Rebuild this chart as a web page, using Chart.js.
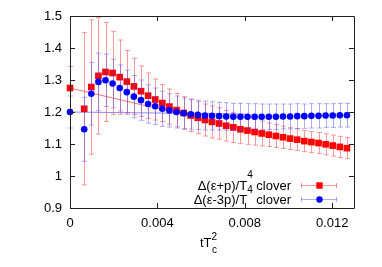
<!DOCTYPE html>
<html>
<head>
<meta charset="utf-8">
<script src="https://cdn.jsdelivr.net/npm/chart.js@4"></script>
<style>
  html, body { margin: 0; padding: 0; background: #fff; }
  #wrap { width: 382px; height: 267px; }
</style>
</head>
<body>
<div id="wrap"><canvas id="chart" width="382" height="267"></canvas></div>
<script>
// flow time tT_c^2 (first entry is the t->0 extrapolation)
const tTc2 = [0, 0.00065, 0.000975, 0.0013, 0.001625, 0.00195, 0.002275, 0.0026, 0.002925,
  0.00325, 0.003575, 0.0039, 0.004225, 0.00455, 0.004875, 0.0052, 0.005525, 0.00585, 0.006175,
  0.0065, 0.006825, 0.00715, 0.007475, 0.0078, 0.008125, 0.00845, 0.008775, 0.0091, 0.009425,
  0.00975, 0.010075, 0.0104, 0.010725, 0.01105, 0.011375, 0.0117, 0.012025, 0.01235, 0.012675];

// Delta(e+p)/T^4 clover
const epVal = [1.275, 1.21, 1.278, 1.313, 1.325, 1.322, 1.309, 1.295, 1.28, 1.265, 1.251, 1.239,
  1.228, 1.217, 1.206, 1.197, 1.189, 1.182, 1.175, 1.169, 1.164, 1.157, 1.152, 1.146, 1.142,
  1.1375, 1.133, 1.129, 1.125, 1.121, 1.117, 1.1135, 1.109, 1.106, 1.103, 1.099, 1.095, 1.091, 1.087];
const epErr = [0.067, 0.238, 0.21, 0.182, 0.155, 0.13, 0.116, 0.097, 0.088, 0.079, 0.071, 0.064,
  0.058, 0.055, 0.052, 0.051, 0.05, 0.05, 0.05, 0.05, 0.049, 0.048, 0.047, 0.045, 0.043,
  0.041, 0.039, 0.037, 0.036, 0.035, 0.034, 0.034, 0.033, 0.033, 0.033, 0.033, 0.033, 0.033, 0.033];

// Delta(e-3p)/T^4 clover
const e3pVal = [1.2, 1.146, 1.257, 1.294, 1.299, 1.289, 1.275, 1.262, 1.248, 1.237, 1.225, 1.218,
  1.21, 1.205, 1.2, 1.196, 1.193, 1.191, 1.189, 1.188, 1.187, 1.186, 1.185, 1.185, 1.185,
  1.185, 1.185, 1.185, 1.185, 1.186, 1.186, 1.187, 1.187, 1.188, 1.188, 1.189, 1.189, 1.19, 1.19];
const e3pErr = [0.05, 0.1, 0.098, 0.09, 0.082, 0.076, 0.072, 0.069, 0.066, 0.063, 0.06, 0.057,
  0.055, 0.052, 0.05, 0.048, 0.047, 0.046, 0.045, 0.044, 0.043, 0.043, 0.042, 0.042, 0.041,
  0.041, 0.04, 0.04, 0.04, 0.039, 0.039, 0.039, 0.038, 0.038, 0.038, 0.037, 0.037, 0.037, 0.037];

// linear extrapolation lines
const epFitX = [0, 0.009];
const epFitY = [1.275, 1.131];
const e3pFitX = [0, 0.008];
const e3pFitY = [1.2, 1.1936];

const xTicks = [0, 0.004, 0.008, 0.012];
const xTickLabels = ['0', '0.004', '0.008', '0.012'];
const yTicks = [0.9, 1, 1.1, 1.2, 1.3, 1.4, 1.5];
const yTickLabels = ['0.9', '1', '1.1', '1.2', '1.3', '1.4', '1.5'];

const FONT = "'Liberation Sans', Arial, sans-serif";
const RED = '#ff0000';
const BLUE = '#0000ff';
const RED_BAR = 'rgba(255,70,70,0.55)';
const BLUE_BAR = 'rgba(70,70,255,0.45)';

const pts = (xs, ys) => xs.map((x, i) => ({ x: x, y: ys[i] }));

// error bars drawn just before their own dataset so the layering follows gnuplot
const errorBars = {
  id: 'errorBars',
  beforeDatasetDraw(chart, args) {
    const ds = chart.data.datasets[args.index];
    if (!ds.errors) return;
    const { ctx, scales: { x, y } } = chart;
    ctx.save();
    ctx.strokeStyle = ds.barColor;
    ctx.lineWidth = 1;
    ds.data.forEach((p, i) => {
      const e = ds.errors[i];
      const px = Math.round(x.getPixelForValue(p.x)) + 0.5;
      const top = y.getPixelForValue(p.y + e);
      const bot = y.getPixelForValue(p.y - e);
      ctx.beginPath();
      ctx.moveTo(px, top); ctx.lineTo(px, bot);
      ctx.moveTo(px - 2.5, top); ctx.lineTo(px + 2.5, top);
      ctx.moveTo(px - 2.5, bot); ctx.lineTo(px + 2.5, bot);
      ctx.stroke();
    });
    ctx.restore();
  }
};

function supText(ctx, parts, xRight, yMid) {
  // parts: [text, size, dy]; drawn right-aligned ending at xRight
  let total = 0;
  parts.forEach(p => { ctx.font = p[1] + 'px ' + FONT; p.w = ctx.measureText(p[0]).width; total += p.w; });
  let cx = xRight - total;
  parts.forEach(p => {
    ctx.font = p[1] + 'px ' + FONT;
    ctx.fillText(p[0], cx, yMid + p[2]);
    cx += p.w;
  });
}

const frame = {
  id: 'frame',
  afterDraw(chart) {
    const { ctx, chartArea: a, scales: { x, y } } = chart;
    ctx.save();
    ctx.strokeStyle = '#222';
    ctx.lineWidth = 1;
    ctx.beginPath();
    ctx.rect(Math.round(a.left) + 0.5, Math.round(a.top) + 0.5,
      Math.round(a.right - a.left), Math.round(a.bottom - a.top));
    yTicks.forEach(v => {
      const py = Math.round(y.getPixelForValue(v)) + 0.5;
      ctx.moveTo(a.left, py); ctx.lineTo(a.left + 5, py);
      ctx.moveTo(a.right, py); ctx.lineTo(a.right - 5, py);
    });
    xTicks.forEach(v => {
      const px = Math.round(x.getPixelForValue(v)) + 0.5;
      ctx.moveTo(px, a.bottom); ctx.lineTo(px, a.bottom - 5);
      ctx.moveTo(px, a.top); ctx.lineTo(px, a.top + 5);
    });
    ctx.stroke();

    // axis title tT_c^2 (sub and sup stacked)
    ctx.fillStyle = '#000';
    ctx.textBaseline = 'middle';
    ctx.textAlign = 'left';
    ctx.font = '13px ' + FONT;
    ctx.fillText('tT', 200, 243.5);
    const w = ctx.measureText('tT').width;
    ctx.font = '10px ' + FONT;
    ctx.fillText('c', 200 + w + 0.5, 250);
    ctx.fillText('2', 200 + w, 237);

    // legend
    const rows = [
      { y: 186, label: [['\u0394(\u03b5+p)/T', 13, 0], ['4', 10, -11], [' clover', 13, 0]], bar: RED_BAR, col: RED, shape: 'rect' },
      { y: 200, label: [['\u0394(\u03b5-3p)/T', 13, 0], ['4', 10, -10], [' clover', 13, 0]], bar: BLUE_BAR, col: BLUE, shape: 'circle' }
    ];
    rows.forEach(r => {
      ctx.fillStyle = '#000';
      supText(ctx, r.label, 291, r.y);
      ctx.strokeStyle = r.bar;
      ctx.beginPath();
      ctx.moveTo(301, r.y - 0.5); ctx.lineTo(337, r.y - 0.5);
      ctx.moveTo(301.5, r.y - 3); ctx.lineTo(301.5, r.y + 2);
      ctx.moveTo(336.5, r.y - 3); ctx.lineTo(336.5, r.y + 2);
      ctx.stroke();
      ctx.fillStyle = r.col;
      ctx.beginPath();
      if (r.shape === 'rect') ctx.rect(319.5 - 3.2, r.y - 3.7, 6.4, 6.4);
      else ctx.arc(319.5, r.y - 0.5, 3.2, 0, Math.PI * 2);
      ctx.fill();
    });
    ctx.restore();
  }
};

new Chart(document.getElementById('chart'), {
  type: 'scatter',
  data: {
    datasets: [
      {
        label: 'e3p',
        data: pts(tTc2, e3pVal),
        errors: e3pErr,
        barColor: BLUE_BAR,
        pointStyle: 'circle',
        pointRadius: 3.3,
        pointBackgroundColor: BLUE,
        pointBorderWidth: 0,
        clip: false,
        order: 1
      },
      {
        label: 'ep',
        data: pts(tTc2, epVal),
        errors: epErr,
        barColor: RED_BAR,
        pointStyle: 'rect',
        pointRadius: 4.7,
        pointBackgroundColor: RED,
        pointBorderWidth: 0,
        clip: false,
        order: 2
      },
      {
        label: 'epFit',
        data: pts(epFitX, epFitY),
        showLine: true,
        borderColor: 'rgba(240,90,90,0.85)',
        borderWidth: 1,
        pointRadius: 0,
        order: 3
      },
      {
        label: 'e3pFit',
        data: pts(e3pFitX, e3pFitY),
        showLine: true,
        borderColor: 'rgba(110,110,255,0.8)',
        borderWidth: 1,
        pointRadius: 0,
        order: 4
      }
    ]
  },
  options: {
    responsive: false,
    animation: false,
    devicePixelRatio: 1,
    layout: { padding: { left: 0, top: 16, right: 28, bottom: 0 } },
    plugins: { legend: { display: false }, tooltip: { enabled: false } },
    scales: {
      x: {
        type: 'linear',
        min: 0,
        max: 0.013,
        grid: { display: false, drawTicks: false },
        border: { display: false },
        afterFit: s => { s.height = 59; },
        afterBuildTicks: s => { s.ticks = xTicks.map(v => ({ value: v })); },
        ticks: {
          color: '#000',
          font: { family: FONT, size: 13 },
          padding: 8,
          maxRotation: 0,
          callback: (v) => xTickLabels[xTicks.indexOf(v)]
        }
      },
      y: {
        type: 'linear',
        min: 0.9,
        max: 1.5,
        grid: { display: false, drawTicks: false },
        border: { display: false },
        afterFit: s => { s.width = 70; },
        afterBuildTicks: s => { s.ticks = yTicks.map(v => ({ value: v })); },
        ticks: {
          color: '#000',
          font: { family: FONT, size: 13 },
          padding: 8,
          callback: (v) => yTickLabels[yTicks.indexOf(v)]
        }
      }
    }
  },
  plugins: [errorBars, frame]
});
</script>
</body>
</html>
